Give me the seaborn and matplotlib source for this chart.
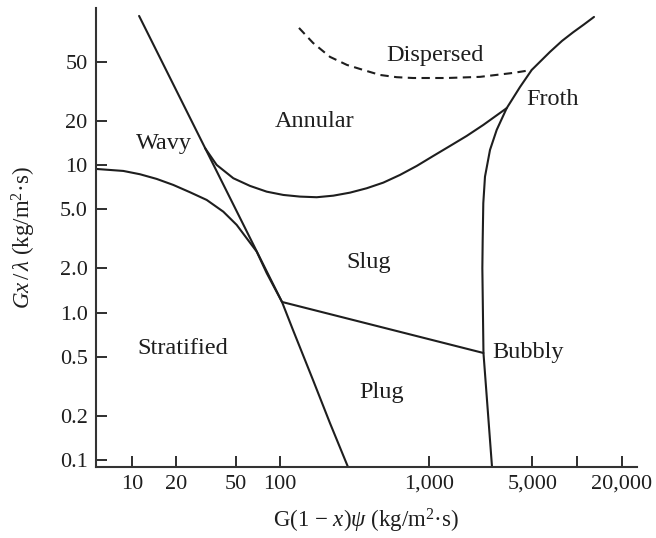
import matplotlib
matplotlib.use("Agg")
import matplotlib.pyplot as plt
import pandas as pd
import seaborn as sns

# ---- data (Baker flow-regime map) ----
wavy_x = [11.2, 102.8]
wavy_y = [102.5, 1.18]

strat_x = [5.74, 8.77, 11.36, 14.72, 19.04, 24.67, 31.96, 41.35, 50.89, 59.44, 69.41, 81.1,
           102.8, 121.9, 166.3, 216.4, 286.1]
strat_y = [9.41, 9.12, 8.66, 8.05, 7.33, 6.54, 5.80, 4.83, 3.93, 3.19, 2.59, 1.85,
           1.18, 0.762, 0.349, 0.178, 0.0898]

annular_x = [31.1, 37.3, 48.3, 62.6, 81.1, 104.9, 135.9, 176.1, 227.8, 295.2, 382.4, 494.9,
             641, 831, 1075, 1393, 1804, 2334, 3356]
annular_y = [13.06, 10.02, 8.14, 7.22, 6.60, 6.27, 6.11, 6.05, 6.20, 6.50, 6.96, 7.60,
             8.57, 9.86, 11.53, 13.47, 15.75, 18.7, 24.3]

slugplug_x = [102.8, 2340]
slugplug_y = [1.18, 0.532]

bubbly_x = [2672, 2340, 2300, 2312, 2334, 2396, 2590, 2873, 3356, 4125, 4945,
            6569, 7913, 9387, 11135, 12999]
bubbly_y = [0.0898, 0.532, 2.0, 3.11, 5.51, 8.34, 12.66, 17.3, 24.3, 33.8, 44.1,
            58.5, 69.4, 79.3, 89.8, 100.9]

dispersed_x = [133.8, 166.3, 216.4, 281.7, 362.8, 470, 609, 784, 1329, 2218, 3700, 4945]
dispersed_y = [85.0, 67.3, 54.1, 47.7, 44.1, 40.8, 39.4, 38.9, 38.9, 39.6, 42.1, 44.1]

region_names = ["Dispersed", "Froth", "Annular", "Wavy", "Slug", "Stratified", "Plug", "Bubbly"]
region_x = [1103, 6880, 171.5, 16.5, 396, 22.1, 485, 4670]
region_y = [54.9, 27.6, 19.6, 14.1, 2.20, 0.567, 0.285, 0.532]

xticks = [10, 20, 50, 100, 1000, 5000, 10000, 20000]
xticklabels = ["10", "20", "50", "100", "1,000", "5,000", "", "20,000"]
yticks = [0.1, 0.2, 0.5, 1, 2, 5, 10, 20, 50]
yticklabels = ["0.1", "0.2", "0.5", "1.0", "2.0", "5.0", "10", "20", "50"]

# ---- style ----
sns.set_style("ticks")
plt.rcParams["font.family"] = ["Liberation Serif", "DejaVu Serif"]
plt.rcParams["mathtext.fontset"] = "custom"
plt.rcParams["mathtext.rm"] = "Liberation Serif"
plt.rcParams["mathtext.it"] = "Liberation Serif:italic"

ink = "#1e1e1e"
fig = plt.figure(figsize=(6.56, 5.38), dpi=100)
ax = fig.add_axes([96 / 656, 1 - 466.7 / 538, (636.7 - 96) / 656, (466.7 - 8) / 538])

curves = [
    (wavy_x, wavy_y, "-"),
    (strat_x, strat_y, "-"),
    (annular_x, annular_y, "-"),
    (slugplug_x, slugplug_y, "-"),
    (bubbly_x, bubbly_y, "-"),
    (dispersed_x, dispersed_y, "--"),
]
for cx, cy, ls in curves:
    df = pd.DataFrame({"x": cx, "y": cy})
    sns.lineplot(data=df, x="x", y="y", sort=False, estimator=None, ax=ax,
                 color=ink, linewidth=1.5, linestyle=ls)
    ax.lines[-1].set_solid_joinstyle("round")
    if ls == "--":
        ax.lines[-1].set_dashes([4.0, 2.6])

ax.set_xscale("log")
ax.set_yscale("log")
ax.set_xlim(5.74, 25210)
ax.set_ylim(0.0902, 116)
ax.minorticks_off()
ax.set_xticks(xticks)
ax.set_xticklabels(xticklabels)
ax.set_yticks(yticks)
ax.set_yticklabels(yticklabels)
ax.tick_params(direction="in", length=8, width=1.3, colors=ink, labelsize=16, pad=6)
for s in ["top", "right"]:
    ax.spines[s].set_visible(False)
for s in ["left", "bottom"]:
    ax.spines[s].set_linewidth(1.5)
    ax.spines[s].set_color("#333333")

for name, rx, ry in zip(region_names, region_x, region_y):
    ax.text(rx, ry, name, ha="center", va="center", fontsize=17.5, color=ink)

ax.set_xlabel(r"G(1 $-$ $x$)$\psi$ (kg/m$^2$·s)", fontsize=16.5, color=ink)
ax.set_ylabel(r"$Gx\,/\,\lambda$ (kg/m$^2$·s)", fontsize=16.5, color=ink)
ax.xaxis.set_label_coords(0.5, -0.088)
ax.yaxis.set_label_coords(-0.107, 0.5)
ax.xaxis.label.set_va("top")

fig.savefig("out.png", dpi=100)
